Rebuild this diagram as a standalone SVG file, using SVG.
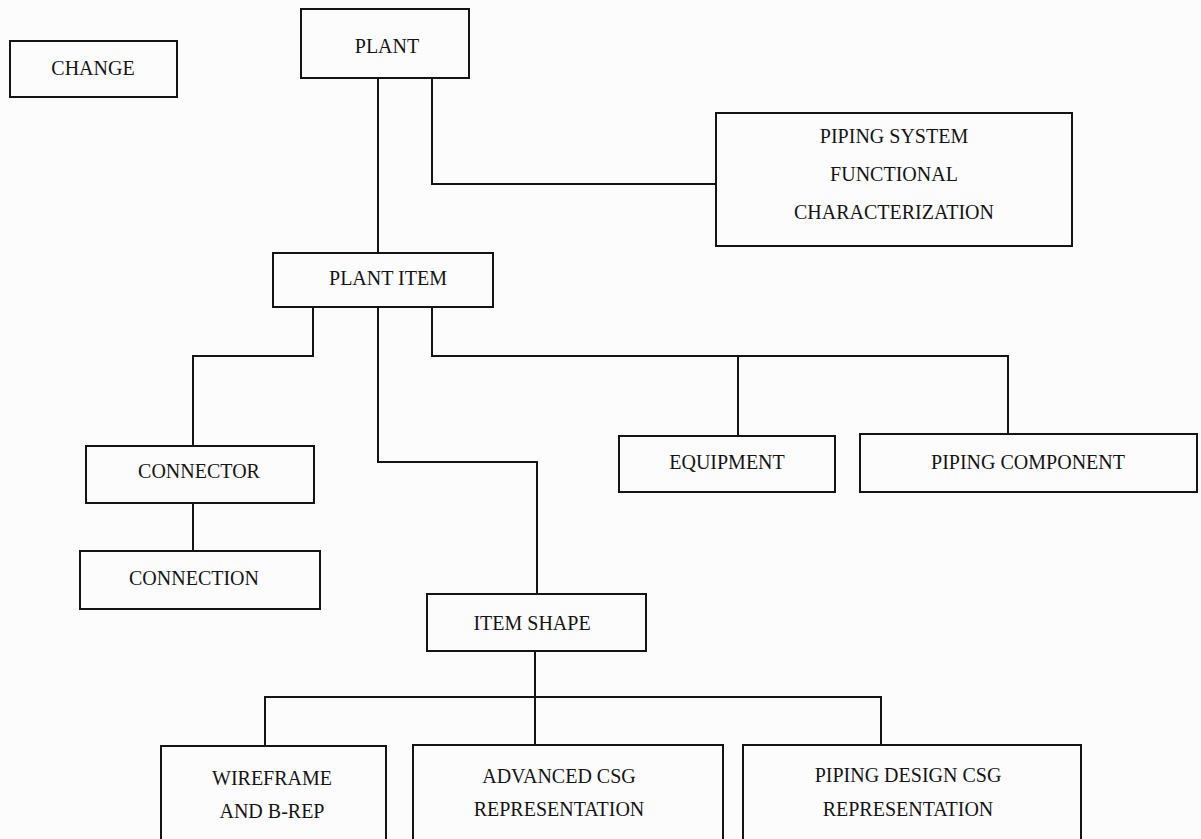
<svg xmlns="http://www.w3.org/2000/svg" width="1201" height="839" viewBox="0 0 1201 839">
<style>
.box{fill:none;stroke:#141414;stroke-width:2}
.lbl{font-family:"Liberation Serif","Times New Roman",serif;font-size:20px;fill:#141414;text-anchor:middle}
.con{fill:none;stroke:#141414;stroke-width:2}
</style>
<rect x="0" y="0" width="1201" height="839" fill="#fcfcfc"/>
<g id="connectors">
<path class="con" d="M378,78 V253"/>
<path class="con" d="M432,78 V184 H716"/>
<path class="con" d="M313,307 V356 H193 V446"/>
<path class="con" d="M193,503 V551"/>
<path class="con" d="M378,307 V462 H537 V594"/>
<path class="con" d="M432,307 V356 H1008 V434"/>
<path class="con" d="M738,356 V436"/>
<path class="con" d="M535,651 V745"/>
<path class="con" d="M265,745 V697 H881 V745"/>
</g>
<g id="change"><rect class="box" x="10" y="41" width="167" height="56"/><text class="lbl" x="93" y="75">CHANGE</text></g>
<g id="plant"><rect class="box" x="301" y="9" width="168" height="69"/><text class="lbl" x="387" y="53">PLANT</text></g>
<g id="piping-system"><rect class="box" x="716" y="113" width="356" height="133"/>
<text class="lbl" x="894" y="143">PIPING SYSTEM</text>
<text class="lbl" x="894" y="181">FUNCTIONAL</text>
<text class="lbl" x="894" y="219">CHARACTERIZATION</text></g>
<g id="plant-item"><rect class="box" x="273" y="253" width="220" height="54"/><text class="lbl" x="388" y="285">PLANT ITEM</text></g>
<g id="connector"><rect class="box" x="86" y="446" width="228" height="57"/><text class="lbl" x="199" y="478">CONNECTOR</text></g>
<g id="connection"><rect class="box" x="80" y="551" width="240" height="58"/><text class="lbl" x="194" y="585">CONNECTION</text></g>
<g id="equipment"><rect class="box" x="619" y="436" width="216" height="56"/><text class="lbl" x="727" y="469">EQUIPMENT</text></g>
<g id="piping-component"><rect class="box" x="860" y="434" width="337" height="58"/><text class="lbl" x="1028" y="469">PIPING COMPONENT</text></g>
<g id="item-shape"><rect class="box" x="427" y="594" width="219" height="57"/><text class="lbl" x="532" y="630">ITEM SHAPE</text></g>
<g id="wireframe"><rect class="box" x="161" y="746" width="225" height="110"/>
<text class="lbl" x="272" y="785">WIREFRAME</text><text class="lbl" x="272" y="818">AND B-REP</text></g>
<g id="advanced-csg"><rect class="box" x="413" y="745" width="310" height="110"/>
<text class="lbl" x="559" y="783">ADVANCED CSG</text><text class="lbl" x="559" y="816">REPRESENTATION</text></g>
<g id="piping-design-csg"><rect class="box" x="743" y="745" width="338" height="110"/>
<text class="lbl" x="908" y="782">PIPING DESIGN CSG</text><text class="lbl" x="908" y="816">REPRESENTATION</text></g>
</svg>
